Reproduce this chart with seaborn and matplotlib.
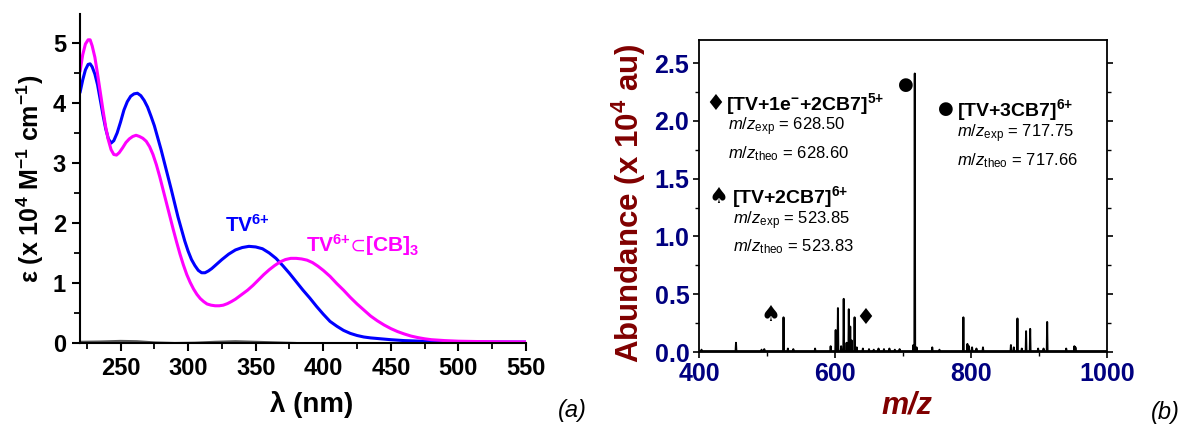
import numpy as np
import pandas as pd
import matplotlib
matplotlib.use("Agg")
import matplotlib.pyplot as plt
import seaborn as sns
from matplotlib.ticker import MultipleLocator

# UV-vis data (a): wavelength in nm, epsilon in 10^4 M-1 cm-1
tv_wl = [220, 222, 224, 226, 227.5, 229, 231, 233, 235, 237, 239, 241, 243, 245,
         247.5, 250, 252.5, 255, 257.5, 260, 262.5, 265, 267.5, 270, 272.5, 275,
         277.5, 280, 282.5, 285, 287.5, 290, 292.5, 295, 297.5, 300, 302.5, 305,
         307.5, 310, 312.5, 315, 317.5, 320, 325, 330, 335, 340, 345, 350, 355,
         360, 365, 370, 375, 380, 385, 390, 395, 400, 405, 410, 415, 420, 425,
         430, 435, 440, 450, 460, 470, 480, 500, 525, 550]
tv_eps = [4.17, 4.38, 4.55, 4.64, 4.65, 4.60, 4.48, 4.30, 4.05, 3.80, 3.57, 3.40,
          3.33, 3.37, 3.50, 3.68, 3.88, 4.02, 4.11, 4.15, 4.16, 4.12, 4.04, 3.93,
          3.78, 3.62, 3.42, 3.22, 3.00, 2.78, 2.56, 2.33, 2.10, 1.90, 1.70, 1.53,
          1.39, 1.29, 1.21, 1.17, 1.17, 1.20, 1.24, 1.29, 1.39, 1.48, 1.55, 1.59,
          1.61, 1.60, 1.57, 1.50, 1.41, 1.29, 1.16, 1.02, 0.88, 0.75, 0.61, 0.48,
          0.36, 0.28, 0.21, 0.16, 0.125, 0.10, 0.085, 0.075, 0.055, 0.04, 0.032,
          0.026, 0.02, 0.017, 0.015]

cb_wl = [220, 222, 224, 226, 227.5, 229, 231, 233, 235, 237, 239, 241, 243, 245,
         247, 249, 251.5, 254, 256.5, 259, 261.5, 264, 266.5, 269, 271.5, 274,
         276.5, 279, 281.5, 284, 286.5, 289, 291.5, 294, 296.5, 299, 301.5, 304,
         306.5, 309, 311.5, 314, 317, 320, 323, 326, 329, 332, 335, 338, 341, 344,
         348, 352, 356, 360, 364, 368, 372, 376, 380, 384, 388, 392, 396, 400,
         405, 410, 415, 420, 425, 430, 435, 440, 445, 450, 455, 460, 465, 470,
         475, 480, 490, 500, 515, 530, 550]
cb_eps = [4.52, 4.80, 4.98, 5.05, 5.05, 4.95, 4.76, 4.48, 4.18, 3.88, 3.60, 3.38,
          3.22, 3.14, 3.13, 3.17, 3.25, 3.34, 3.40, 3.44, 3.46, 3.44, 3.41, 3.36,
          3.27, 3.14, 2.97, 2.77, 2.55, 2.33, 2.11, 1.89, 1.68, 1.48, 1.30, 1.14,
          1.01, 0.90, 0.81, 0.74, 0.69, 0.65, 0.63, 0.62, 0.62, 0.63, 0.655, 0.69,
          0.73, 0.78, 0.83, 0.88, 0.96, 1.05, 1.14, 1.22, 1.29, 1.35, 1.39, 1.41,
          1.41, 1.40, 1.38, 1.34, 1.28, 1.21, 1.11, 0.99, 0.88, 0.76, 0.65, 0.55,
          0.45, 0.37, 0.30, 0.24, 0.19, 0.15, 0.115, 0.09, 0.07, 0.055, 0.04, 0.03,
          0.024, 0.02, 0.018]

base_wl = [220, 235, 250, 262, 275, 290, 305, 320, 335, 350, 365, 380]
base_eps = [0.02, 0.025, 0.035, 0.03, 0.01, 0.0, 0.005, 0.02, 0.03, 0.02, 0.01, 0.0]

# ESI-MS data (b): m/z and abundance in 10^4 au
peak_mz = [403.7, 454.4, 492, 496, 524.3, 530.7, 538.7, 570.7, 593.6, 601, 604.3,
           609, 612.8, 617, 620.3, 622.4, 624.5, 628.8, 632, 641, 650, 657, 664,
           672, 680, 688, 695, 715.2, 717.3, 720, 743, 753.6, 788.8, 794.7, 797,
           801.6, 808, 817.6, 858.7, 863, 868.3, 874.7, 881, 887, 898.7, 906.7,
           912, 940, 952, 953.6]
peak_ab = [0.02, 0.08, 0.02, 0.025, 0.30, 0.03, 0.025, 0.03, 0.05, 0.19, 0.38,
           0.05, 0.46, 0.08, 0.37, 0.22, 0.10, 0.30, 0.04, 0.03, 0.025, 0.02, 0.03,
           0.025, 0.03, 0.02, 0.025, 0.06, 2.41, 0.04, 0.04, 0.02, 0.30, 0.07, 0.05,
           0.04, 0.03, 0.04, 0.06, 0.04, 0.29, 0.03, 0.18, 0.20, 0.03, 0.03,
           0.26, 0.03, 0.05, 0.04]
baseline_ab = 0.008

mz_ticks = [400, 600, 800, 1000]
ab_ticks = [0.0, 0.5, 1.0, 1.5, 2.0, 2.5]
wl_ticks = [250, 300, 350, 400, 450, 500, 550]
eps_ticks = [0, 1, 2, 3, 4, 5]

sns.set_theme(style="ticks")
plt.rcParams["font.family"] = ["Liberation Sans", "DejaVu Sans"]
plt.rcParams["mathtext.fontset"] = "custom"
plt.rcParams["mathtext.rm"] = "Liberation Sans"
plt.rcParams["mathtext.it"] = "Liberation Sans:italic"
plt.rcParams["mathtext.bf"] = "Liberation Sans:bold"
plt.rcParams["mathtext.default"] = "regular"
plt.rcParams["mathtext.fallback"] = "stixsans"
for key in ["text.color", "axes.labelcolor", "xtick.color", "ytick.color"]:
    plt.rcParams[key] = "black"

W, H = 1183, 430
fig = plt.figure(figsize=(W / 100, H / 100), dpi=100)

# ---------- (a) absorption spectra ----------
ax1 = fig.add_axes([80 / W, 87 / H, 446 / W, 329 / H])
sns.lineplot(x=base_wl, y=base_eps, ax=ax1, color="#555555", lw=1.5)
sns.lineplot(x=tv_wl, y=tv_eps, ax=ax1, color="#0000ff", lw=2.2)
sns.lineplot(x=cb_wl, y=cb_eps, ax=ax1, color="#ff00ff", lw=2.2)

ax1.set_xlim(220, 550)
ax1.set_ylim(0, 5.48)
ax1.set_xticks(wl_ticks)
ax1.set_yticks(eps_ticks)
ax1.xaxis.set_minor_locator(MultipleLocator(25))
ax1.yaxis.set_minor_locator(MultipleLocator(0.5))
for s in ["top", "right"]:
    ax1.spines[s].set_visible(False)
for s in ["left", "bottom"]:
    ax1.spines[s].set_linewidth(1.5)
    ax1.spines[s].set_color("black")
ax1.tick_params(which="major", direction="out", length=6, width=1.5, labelsize=17,
                pad=4, colors="black")
ax1.tick_params(which="minor", direction="out", length=4, width=1.3, colors="black")
for lab in ax1.get_xticklabels() + ax1.get_yticklabels():
    lab.set_fontweight("bold")

ax1.set_xlabel("λ (nm)", fontsize=20, fontweight="bold")
ax1.xaxis.set_label_coords(0.52, -0.188)
ax1.xaxis.label.set_va("center")
ax1.set_ylabel("ε (x 10$^{4}$ M$^{-1}$ cm$^{-1}$)", fontsize=18, fontweight="bold")
ax1.yaxis.set_label_coords(-0.112, 0.5)
ax1.yaxis.label.set_va("center")

ax1.text(327.5, 1.855, "TV$^{6{+}}$", color="#0000ff", fontsize=15, fontweight="bold")
ax1.text(387, 1.52, "TV$^{6{+}}$$\\!\\subset\\!$[CB]$_{3}$", color="#ff00ff",
         fontsize=15, fontweight="bold")

# ---------- (b) mass spectrum ----------
ax2 = fig.add_axes([699 / W, 78 / H, 408 / W, 312 / H])
stick_x = [400.0]
stick_y = [baseline_ab]
for mz, ab in zip(peak_mz, peak_ab):
    stick_x += [mz - 0.6, mz, mz + 0.6]
    stick_y += [baseline_ab, ab, baseline_ab]
stick_x.append(1000.0)
stick_y.append(baseline_ab)
spec = pd.DataFrame({"mz": stick_x, "ab": stick_y})
sns.lineplot(data=spec, x="mz", y="ab", ax=ax2, color="black", lw=1.4, sort=False)

ax2.set_xlim(400, 1000)
ax2.set_ylim(0, 2.70)
ax2.set_xticks(mz_ticks)
ax2.set_yticks(ab_ticks)
ax2.set_yticklabels([f"{v:.1f}" for v in ab_ticks])
ax2.xaxis.set_minor_locator(MultipleLocator(100))
ax2.yaxis.set_minor_locator(MultipleLocator(0.25))
for s in ax2.spines.values():
    s.set_linewidth(1.3)
    s.set_color("black")
ax2.tick_params(which="major", direction="out", length=4, width=1.2, labelsize=18,
                color="black", labelcolor="#000080", right=True, pad=3)
ax2.tick_params(which="minor", direction="out", length=3, width=1.0, color="black",
                right=True)
for lab in ax2.get_xticklabels() + ax2.get_yticklabels():
    lab.set_fontweight("bold")

ax2.set_xlabel("m/z", fontsize=22, fontweight="bold", fontstyle="italic", color="#800000")
ax2.xaxis.set_label_coords(0.51, -0.17)
ax2.xaxis.label.set_va("center")
ax2.set_ylabel("Abundance (x 10$^{4}$ au)", fontsize=22.5, fontweight="bold", color="#800000")
ax2.yaxis.set_label_coords(-0.173, 0.4776)
ax2.yaxis.label.set_va("center")

sym = dict(family=["DejaVu Sans"], color="black", ha="center", va="center")
# peak markers
ax2.text(704.5, 2.31, "●", fontsize=13, **sym)
ax2.text(505, 0.32, "♠", fontsize=16, **sym)
ax2.text(644.8, 0.29, "♦", fontsize=16, **sym)

# legend blocks
ax2.text(424.5, 2.15, "♦", fontsize=16, **sym)
ax2.text(440, 2.15, "[TV+1e$^{-}$+2CB7]$^{5{+}}$", fontsize=14, fontweight="bold", va="center")
ax2.text(442.7, 1.95, "$\\mathit{m/z}_{exp}$ = 628.50", fontsize=12, va="center")
ax2.text(442.7, 1.72, "$\\mathit{m/z}_{theo}$ = 628.60", fontsize=12, va="center")

ax2.text(429, 1.34, "♠", fontsize=16, **sym)
ax2.text(448, 1.34, "[TV+2CB7]$^{6{+}}$", fontsize=14, fontweight="bold", va="center")
ax2.text(449.6, 1.14, "$\\mathit{m/z}_{exp}$ = 523.85", fontsize=12, va="center")
ax2.text(449.6, 0.91, "$\\mathit{m/z}_{theo}$ = 523.83", fontsize=12, va="center")

ax2.text(762.7, 2.105, "●", fontsize=13, **sym)
ax2.text(778.7, 2.09, "[TV+3CB7]$^{6{+}}$", fontsize=14, fontweight="bold", va="center")
ax2.text(778.7, 1.89, "$\\mathit{m/z}_{exp}$ = 717.75", fontsize=12, va="center")
ax2.text(778.7, 1.66, "$\\mathit{m/z}_{theo}$ = 717.66", fontsize=12, va="center")

fig.text(572 / W, 1 - 410 / H, "(a)", fontsize=17, fontstyle="italic", ha="center", va="center")
fig.text(1165 / W, 1 - 412 / H, "(b)", fontsize=17, fontstyle="italic", ha="center", va="center")

fig.savefig("out.png", dpi=100)
